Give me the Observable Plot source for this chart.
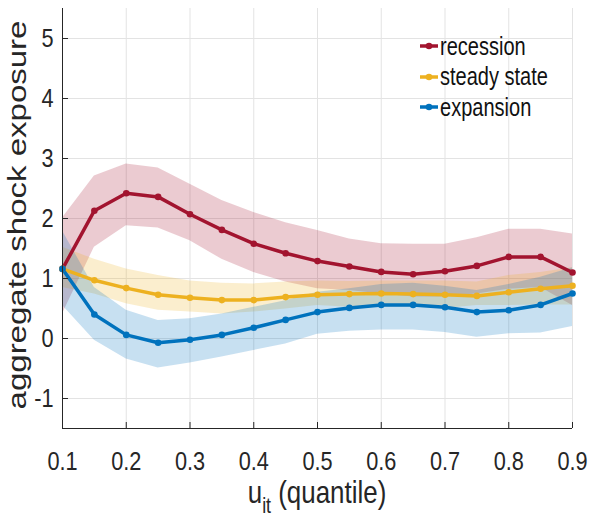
<!DOCTYPE html>
<html><head><meta charset="utf-8">
<script src="https://cdn.jsdelivr.net/npm/d3@7"></script>
<script src="https://cdn.jsdelivr.net/npm/@observablehq/plot@0.6"></script>
<style>
body{margin:0;background:#fff;font-family:"Liberation Sans",Arial,sans-serif}
#wrap{position:relative;width:590px;height:516px}
#legend{position:absolute;left:419px;top:31px;font-size:26px;color:#111}
#legend .row{display:flex;align-items:center;height:30.5px}
#legend svg{margin-right:1px}
#legend span{display:inline-block;transform:scaleX(0.77);transform-origin:left center;white-space:nowrap}
</style>
</head><body><div id="wrap"></div>
<script>
const quantiles = [0.1,0.15,0.2,0.25,0.3,0.35,0.4,0.45,0.5,0.55,0.6,0.65,0.7,0.75,0.8,0.85,0.9];
const seriesNames = ["recession","steady state","expansion"];
const seriesColors = ["#A2142F","#EDB120","#0072BD"];
const recession = [1.16,2.13,2.42,2.36,2.07,1.81,1.58,1.42,1.29,1.20,1.11,1.07,1.12,1.21,1.36,1.36,1.10];
const recessionLo = [0.41,1.52,1.88,1.84,1.63,1.32,1.10,0.94,0.83,0.80,0.74,0.69,0.69,0.74,0.82,0.85,0.55];
const recessionHi = [2.01,2.71,2.91,2.84,2.57,2.30,2.10,1.93,1.80,1.66,1.58,1.57,1.57,1.68,1.82,1.82,1.74];
const steady = [1.16,0.97,0.84,0.73,0.68,0.64,0.64,0.69,0.73,0.74,0.75,0.74,0.73,0.71,0.77,0.83,0.88];
const steadyLo = [0.85,0.74,0.58,0.47,0.44,0.41,0.44,0.49,0.55,0.52,0.52,0.52,0.50,0.55,0.55,0.56,0.56];
const steadyHi = [1.52,1.32,1.16,1.05,0.96,0.92,0.91,0.94,0.96,0.95,0.96,0.96,0.96,0.94,1.05,1.10,1.18];
const expansion = [1.16,0.40,0.06,-0.07,-0.02,0.06,0.18,0.31,0.44,0.51,0.56,0.56,0.52,0.44,0.47,0.56,0.75];
const expansionLo = [0.55,-0.03,-0.34,-0.49,-0.41,-0.31,-0.20,-0.09,0.07,0.12,0.14,0.14,0.10,0.02,0.08,0.09,0.20];
const expansionHi = [1.79,0.85,0.47,0.30,0.33,0.41,0.52,0.63,0.77,0.83,0.90,0.92,0.87,0.80,0.90,1.02,1.18];
const xTicks = [0.1,0.2,0.3,0.4,0.5,0.6,0.7,0.8,0.9];
const yTicks = [-1,0,1,2,3,4,5];
const xDomain = [0.1,0.9];
const yDomain = [-1.5,5.5];
const yLabel = "aggregate shock exposure";
const xLabelMain = "u", xLabelSub = "it", xLabelRest = " (quantile)";

const series = [
  {name: seriesNames[0], y: recession, lo: recessionLo, hi: recessionHi},
  {name: seriesNames[1], y: steady, lo: steadyLo, hi: steadyHi},
  {name: seriesNames[2], y: expansion, lo: expansionLo, hi: expansionHi}
];
const rows = series.flatMap(s => quantiles.map((x, i) => ({x, y: s.y[i], lo: s.lo[i], hi: s.hi[i], name: s.name})));

const FONT = '"Liberation Sans", Arial, sans-serif';
const SQ = 0.82; // horizontal squeeze of the reference's narrow text

const plot = Plot.plot({
  width: 590, height: 516,
  marginLeft: 62, marginRight: 18, marginTop: 8, marginBottom: 88,
  style: {fontFamily: FONT, fontSize: "26.5px", color: "#262626", background: "#fff"},
  x: {domain: xDomain},
  y: {domain: yDomain},
  color: {domain: seriesNames, range: seriesColors},
  marks: [
    Plot.gridX(xTicks, {stroke: "#e3e3e3", strokeOpacity: 1}),
    Plot.gridY(yTicks, {stroke: "#e3e3e3", strokeOpacity: 1}),
    Plot.areaY(rows, {x: "x", y1: "lo", y2: "hi", z: "name", fill: "name", fillOpacity: 0.22}),
    Plot.line(rows, {x: "x", y: "y", z: "name", stroke: "name", strokeWidth: 3.5}),
    Plot.dot(rows, {x: "x", y: "y", fill: "name", r: 3.3}),
    Plot.ruleX([xDomain[0]], {stroke: "#262626"}),
    Plot.ruleY([yDomain[0]], {stroke: "#262626"}),
    Plot.axisX(xTicks, {tickSize: -6, tickPadding: 29, tickFormat: d => d.toFixed(1), label: null, stroke: "#262626", fontSize: 26.5}),
    Plot.axisY(yTicks, {tickSize: -6, tickPadding: 15, tickFormat: d => String(d), label: null, stroke: "#262626", fontSize: 26.5})
  ]
});

const wrap = document.getElementById("wrap");
wrap.appendChild(plot);
const svg = d3.select(plot);

// squeeze tick labels horizontally like the reference
svg.selectAll("text").each(function() {
  const x = +this.getAttribute("x") || 0, y = +this.getAttribute("y") || 0;
  const tr = this.getAttribute("transform") || "";
  this.setAttribute("transform", `${tr} translate(${x},${y}) scale(${SQ},1) translate(${-x},${-y})`);
});

const xs = plot.scale("x"), ys = plot.scale("y");

// y-axis label
svg.append("text")
  .attr("transform", `translate(26,${(ys.apply(yDomain[0]) + ys.apply(yDomain[1])) / 2 - 3}) rotate(-90) scale(1,0.8)`)
  .attr("text-anchor", "middle")
  .attr("font-family", FONT)
  .attr("font-size", 33)
  .attr("fill", "#262626")
  .text(yLabel);

// x-axis label with subscript
const t = svg.append("text")
  .attr("transform", `translate(${xs.apply(0.5)},503) scale(0.81,1)`)
  .attr("text-anchor", "middle")
  .attr("font-family", FONT)
  .attr("font-size", 32)
  .attr("fill", "#262626");
t.append("tspan").text(xLabelMain);
t.append("tspan").attr("font-size", 22).attr("dy", 10).text(xLabelSub);
t.append("tspan").attr("dy", -10).text(xLabelRest);

// legend
const legend = document.createElement("div");
legend.id = "legend";
seriesNames.forEach((n, i) => {
  const row = document.createElement("div");
  row.className = "row";
  row.innerHTML = `<svg width="20" height="12"><line x1="1" x2="19" y1="6" y2="6" stroke="${seriesColors[i]}" stroke-width="3.5"/><circle cx="10" cy="6" r="3.3" fill="${seriesColors[i]}"/></svg><span>${n}</span>`;
  legend.appendChild(row);
});
wrap.appendChild(legend);
</script>
</body></html>
